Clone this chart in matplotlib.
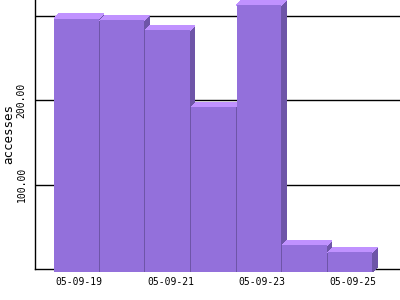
import matplotlib.pyplot as plt
from matplotlib.patches import Polygon

# daily accesses
days = ['05-09-19', '05-09-20', '05-09-21', '05-09-22', '05-09-23', '05-09-24', '05-09-25']
accesses = [297, 295, 283, 192, 313, 28, 20]
grid_values = [100, 200, 300]
tick_labels = ['100.00', '200.00', '']

front = '#9370db'
top_col = '#c092ff'
side_col = '#6e55a8'

fig = plt.figure(figsize=(4, 3), dpi=100)
ax = fig.add_axes([35 / 400, 31 / 300, 365 / 400, 269 / 300])

ax.set_xlim(-0.9, 7.1)
ax.set_ylim(0, 319)

# grid lines behind the bars
for g in grid_values:
    ax.axhline(g, color='black', linewidth=1.0, zorder=0)

width = 0.975
dx = 0.11   # depth of the 3d effect, x units
dy = 5.9    # depth of the 3d effect, y units
below = 3.6

for i, v in enumerate(accesses):
    x0 = i - 0.48
    x1 = x0 + width
    z = 2 + i * 0.01
    faces = [
        ([(x1, -below), (x1 + dx, -below + dy), (x1 + dx, v + dy), (x1, v)], side_col),
        ([(x0, v), (x0 + dx, v + dy), (x1 + dx, v + dy), (x1, v)], top_col),
        ([(x0, -below), (x0, v), (x1, v), (x1, -below)], front),
    ]
    for pts, c in faces:
        ax.add_patch(Polygon(pts, closed=True, facecolor=c, edgecolor='none',
                             antialiased=False, clip_on=False, zorder=z))

for s in ['top', 'right']:
    ax.spines[s].set_visible(False)
ax.spines['left'].set_linewidth(1.0)
ax.spines['bottom'].set_linewidth(1.0)
ax.spines['bottom'].set_zorder(1)

ax.set_xticks([0.07, 2.07, 4.07, 6.07])
ax.set_xticklabels([days[0], days[2], days[4], days[6]], family='DejaVu Sans Mono', fontsize=7)
ax.tick_params(axis='x', length=0, pad=6)

ax.set_yticks(grid_values)
ax.set_yticklabels(tick_labels, rotation=90, va='center', family='DejaVu Sans Mono', fontsize=7)
ax.tick_params(axis='y', length=0, pad=6)

ax.set_ylabel('accesses', family='DejaVu Sans Mono', fontsize=9, labelpad=1)

fig.savefig('out.png', dpi=100)
